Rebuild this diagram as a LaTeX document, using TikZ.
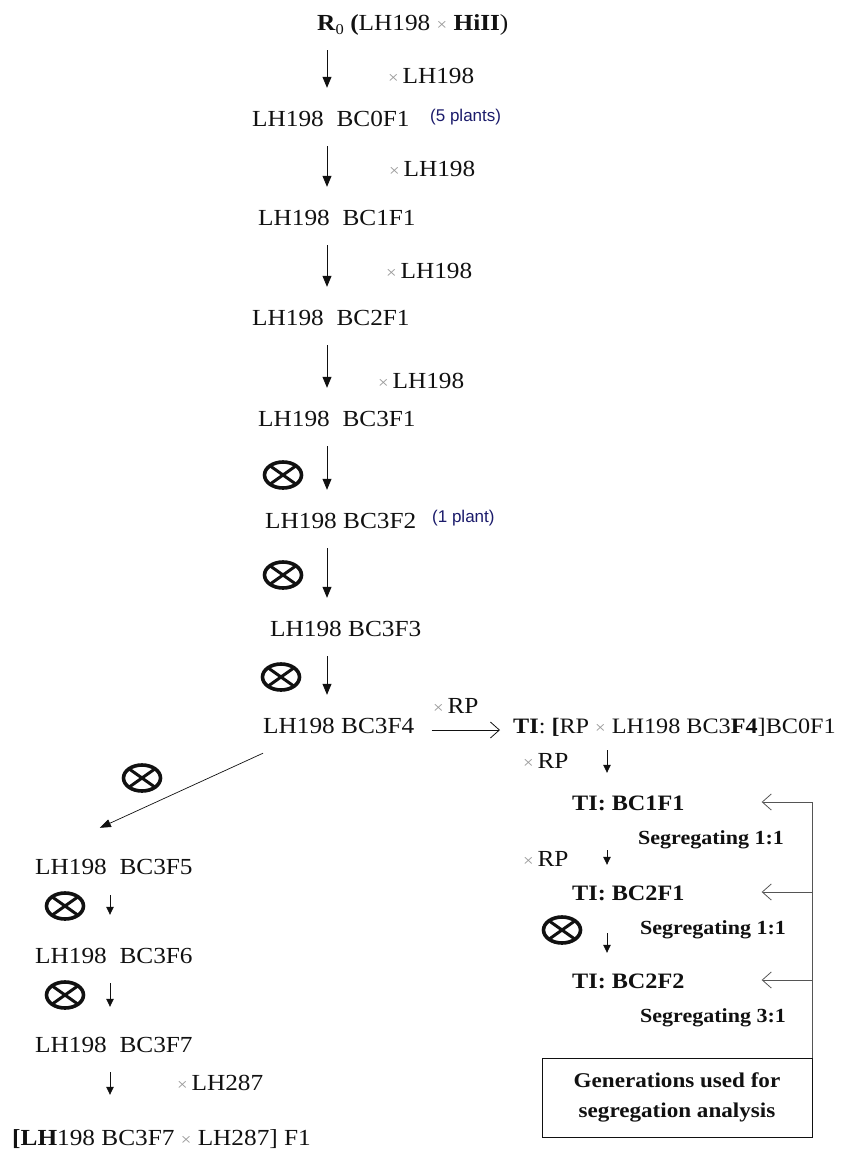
\documentclass[tikz,border=0pt]{standalone}
\usepackage{fontspec}
\setmainfont{Liberation Serif}[FakeStretch=1.1]
\newfontfamily\notefont{Liberation Sans}
\usepackage{xcolor}
\usetikzlibrary{arrows.meta,positioning,calc}
\definecolor{Ink}{HTML}{111111}
\definecolor{Note}{HTML}{1B1B6B}
\definecolor{Cross}{HTML}{9A9A9A}
\definecolor{Rail}{HTML}{555555}
\newcommand{\tms}{{\color{Cross}\fontsize{17}{17}\selectfont ×}}
\newcommand{\selfing}[2]{
  \begin{scope}[shift={(#1,#2)}]
    \draw[Ink, line width=3.6pt] (0,0) ellipse (18.5 and 13);
    \draw[Ink, line width=3pt] (-13,-9.2) -- (13,9.2) (-13,9.2) -- (13,-9.2);
  \end{scope}
}

\begin{document}
\begin{tikzpicture}[x=1pt, y=-1pt, font=\fontsize{23}{27}\selectfont, text=Ink,
    gen/.style={inner sep=0pt, text height=16pt, text depth=0pt, anchor=west},
    byparent/.style={inner sep=0pt, text height=16pt, text depth=0pt, anchor=west},
    seg/.style={inner sep=0pt, anchor=west, font=\fontsize{20}{24}\selectfont\bfseries},
    note/.style={inner sep=0pt, anchor=west, text=Note, font=\notefont\fontsize{17}{20}\selectfont},
    down/.style={draw=Ink, line width=0.8pt, -{Triangle[length=11pt,width=9pt]}, shorten <=20pt, shorten >=22pt},
    sdown/.style={draw=Ink, line width=0.8pt, -{Triangle[length=8pt,width=7.5pt]}},
    back/.style={draw=Rail, line width=0.8pt, -{Straight Barb[length=9pt,width=16pt]}}]
        \useasboundingbox (0,0) rectangle (846,1151);
        \coordinate (ax) at (327,0);
        \coordinate (bx) at (607,0);
        \coordinate (lx) at (110,0);

        % main backcross line
        \node[gen] (r0) at (317,22) {\textbf{R}\raisebox{-4pt}{\fontsize{15}{15}\selectfont 0} \textbf{(}LH198 \tms{} \textbf{HiII})};
        \node[gen] (g0) at (252,118) {LH198\ \ BC0F1};
        \node[note] (n0) at (430,117) {(5 plants)};
        \node[gen] (g1) at (258,217) {LH198\ \ BC1F1};
        \node[gen] (g2) at (252,317) {LH198\ \ BC2F1};
        \node[gen] (g3) at (258,418) {LH198\ \ BC3F1};
        \node[gen] (g4) at (265,520) {LH198 BC3F2};
        \node[note] (n4) at (432,518) {(1 plant)};
        \node[gen] (g5) at (270,628) {LH198 BC3F3};
        \node[gen] (g6) at (263,725) {LH198 BC3F4};

        \node[byparent] (x1) at (388,75) {\tms\,LH198};
        \node[byparent] (x2) at (389,168) {\tms\,LH198};
        \node[byparent] (x3) at (386,270) {\tms\,LH198};
        \node[byparent] (x4) at (378,380) {\tms\,LH198};

        \draw[down] (r0.south -| ax) -- (g0.north -| ax);
        \draw[down] (g0.south -| ax) -- (g1.north -| ax);
        \draw[down] (g1.south -| ax) -- (g2.north -| ax);
        \draw[down] (g2.south -| ax) -- (g3.north -| ax);
        \draw[down] (g3.south -| ax) -- (g4.north -| ax);
        \draw[down] (g4.south -| ax) -- (g5.north -| ax);
        \draw[down] (g5.south -| ax) -- (g6.north -| ax);
        \selfing{283}{475}
        \selfing{283}{575}
        \selfing{281}{677}

        % transgene introgression
        \node[gen, font=\fontsize{22}{26}\selectfont] (ti) at (513,725) {\textbf{TI}: \textbf{[}RP \tms{} LH198 BC3\textbf{F4}]BC0F1};
        \draw[back, draw=Ink, shorten <=17pt, shorten >=13pt] ([yshift=-5pt]g6.east) -- ([yshift=-5pt]ti.west);
        \node[byparent] (xr0) at (433,705) {\tms\,RP};

        \node[gen, font=\fontsize{22}{26}\selectfont\bfseries] (t1) at (572,802) {TI: BC1F1};
        \node[gen, font=\fontsize{22}{26}\selectfont\bfseries] (t2) at (572,892) {TI: BC2F1};
        \node[gen, font=\fontsize{22}{26}\selectfont\bfseries] (t3) at (572,980) {TI: BC2F2};
        \draw[sdown, shorten <=17pt, shorten >=21pt] (ti.south -| bx) -- (t1.north -| bx);
        \draw[sdown, shorten <=40pt, shorten >=19pt] (t1.south -| bx) -- (t2.north -| bx);
        \draw[sdown, shorten <=33pt, shorten >=19pt] (t2.south -| bx) -- (t3.north -| bx);
        \node[byparent] (xr1) at (523,760) {\tms\,RP};
        \node[byparent] (xr2) at (523,858) {\tms\,RP};
        \selfing{562}{930}
        \node[seg] (s1) at (638,840) {Segregating 1:1};
        \node[seg] (s2) at (640,930) {Segregating 1:1};
        \node[seg] (s3) at (640,1018) {Segregating 3:1};

        \node[draw=Ink, line width=0.9pt, minimum width=270pt, minimum height=79pt, align=center, inner sep=0pt, font=\fontsize{21}{30}\selectfont\bfseries] (box) at (677,1097.5) {Generations used for\\segregation analysis};
        \draw[Rail, line width=0.8pt] (box.north east) -- (box.north east |- t1);
        \draw[back, shorten >=77pt] (box.north east |- t1) -- (t1.east);
        \draw[back, shorten >=77pt] (box.north east |- t2) -- (t2.east);
        \draw[back, shorten >=77pt] (box.north east |- t3) -- (t3.east);

        % selfing branch
        \node[gen] (g7) at (35,866) {LH198\ \ BC3F5};
        \node[gen] (g8) at (35,955) {LH198\ \ BC3F6};
        \node[gen] (g9) at (35,1044) {LH198\ \ BC3F7};
        \node[gen] (f1) at (12,1137) {\textbf{[LH}198 BC3F7 \tms{} LH287] F1};
        \draw[draw=Ink, line width=0.7pt, -{Triangle[length=11pt,width=8pt]}] ([yshift=-20pt]g6.south west) -- ([xshift=-14pt, yshift=30pt]g7.north);
        \selfing{142}{778}
        \draw[sdown, shorten <=21pt, shorten >=32pt] (g7.south -| lx) -- (g8.north -| lx);
        \draw[sdown, shorten <=20pt, shorten >=29pt] (g8.south -| lx) -- (g9.north -| lx);
        \draw[sdown, shorten <=20pt, shorten >=34pt] (g9.south -| lx) -- (f1.north -| lx);
        \selfing{65}{906}
        \selfing{65}{995}
        \node[byparent] (x5) at (177,1082) {\tms\,LH287};
      \end{tikzpicture}
\end{document}
